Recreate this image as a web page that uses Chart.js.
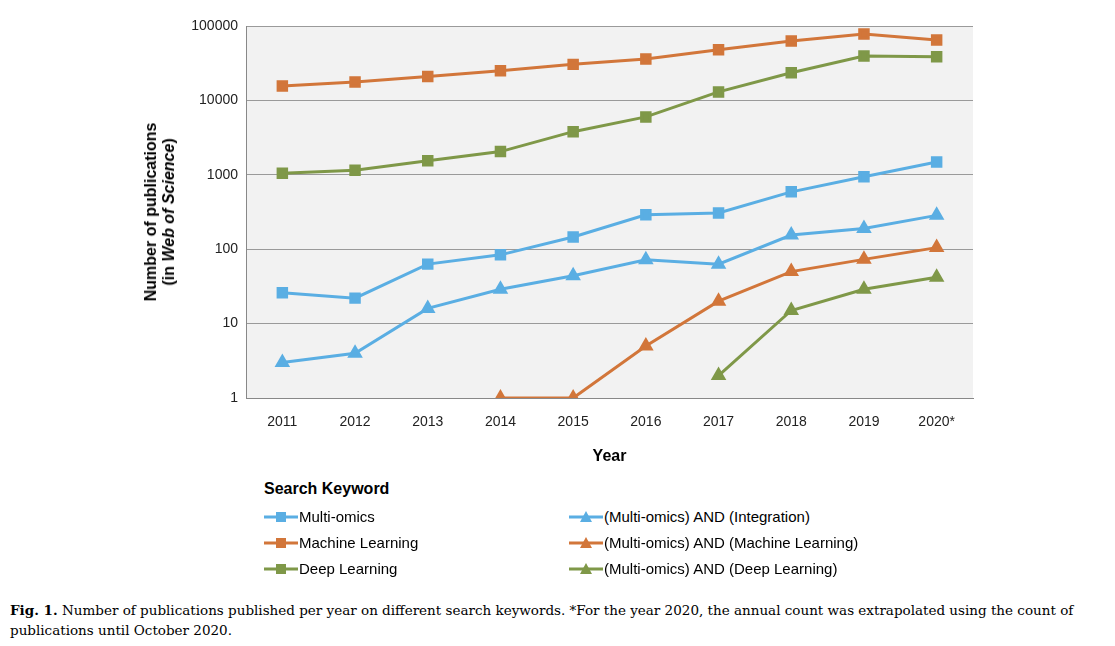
<!DOCTYPE html>
<html><head><meta charset="utf-8">
<script src="https://cdn.jsdelivr.net/npm/chart.js@4"></script>
<style>
body{margin:0;background:#fff;font-family:"Liberation Sans",Arial,sans-serif;}
#wrap{position:relative;width:1115px;height:646px;}
#c{position:absolute;left:0;top:0;}
#ytitle{position:absolute;left:160px;top:212px;transform:translate(-50%,-50%) rotate(-90deg);font-weight:bold;font-size:16px;text-align:center;white-space:nowrap;line-height:18px;}
#legend{position:absolute;left:264px;top:480px;font-size:15px;}
.lt{font-weight:bold;font-size:16px;margin-bottom:10px;}
.item{position:absolute;white-space:nowrap;display:flex;align-items:center;}
.cap{position:absolute;left:10px;top:600px;width:1095px;font-family:"DejaVu Serif","Liberation Serif",serif;font-size:13.5px;line-height:20px;}
</style></head><body>
<div id="wrap">
<canvas id="c" width="1115" height="470" style="width:1115px;height:470px"></canvas>
<div id="ytitle">Number of publications<br>(in <i>Web of Science</i>)</div>
<div id="legend"><div class="lt">Search Keyword</div></div>
<div class="cap"><b>Fig. 1.</b> Number of publications published per year on different search keywords. *For the year 2020, the annual count was extrapolated using the count of publications until October 2020.</div>
</div>
<script>
const years = ['2011','2012','2013','2014','2015','2016','2017','2018','2019','2020*'];
const multiOmics = [26,22,63,84,146,290,307,590,940,1490];
const machineLearning = [15600,17700,21000,25000,30500,36000,48000,63000,78000,65000];
const deepLearning = [1050,1150,1550,2050,3800,6000,13000,23500,39500,38500];
const moIntegration = [3,4,16,29,44,72,63,155,190,285];
const moMachineLearning = [null,null,null,1,1,5,20,50,73,105];
const moDeepLearning = [null,null,null,null,null,null,2,15,29,42];
const yTicks = [1,10,100,1000,10000,100000];

const blue = '#5aaee3', orange = '#d2763a', green = '#7f9848';
function ds(label, data, color, shape) {
  return {label, data, borderColor: color, backgroundColor: color, borderWidth: 3,
    pointStyle: shape, pointRadius: 6, pointHoverRadius: 6, tension: 0, spanGaps: false};
}
const datasets = [
  ds('Multi-omics', multiOmics, blue, 'rect'),
  ds('Machine Learning', machineLearning, orange, 'rect'),
  ds('Deep Learning', deepLearning, green, 'rect'),
  ds('(Multi-omics) AND (Integration)', moIntegration, blue, 'triangle'),
  ds('(Multi-omics) AND (Machine Learning)', moMachineLearning, orange, 'triangle'),
  ds('(Multi-omics) AND (Deep Learning)', moDeepLearning, green, 'triangle')
];

const bgPlugin = {
  id: 'bg',
  beforeDraw(chart) {
    const a = chart.chartArea, ctx = chart.ctx;
    ctx.save(); ctx.fillStyle = '#f2f2f2';
    ctx.fillRect(a.left, a.top, a.right - a.left, a.bottom - a.top);
    ctx.restore();
  }
};

new Chart(document.getElementById('c'), {
  type: 'line',
  data: {labels: years, datasets},
  options: {
    responsive: false, animation: false,
    layout: {padding: {top: 26, right: 142, left: 0, bottom: 0}},
    plugins: {legend: {display: false}, tooltip: {enabled: false}},
    scales: {
      x: {
        offset: true,
        grid: {display: false},
        border: {color: '#888'},
        ticks: {color: '#222', font: {size: 14, family: 'Liberation Sans'}, padding: 8},
        title: {display: true, text: 'Year', color: '#000', font: {size: 16, weight: 'bold'}, padding: {top: 4}},
        afterFit(s) { s.height = 72; }
      },
      y: {
        type: 'logarithmic', min: 1, max: 100000,
        afterBuildTicks(s) { s.ticks = yTicks.map(v => ({value: v})); },
        grid: {color: '#9a9a9a', drawTicks: false},
        border: {color: '#888'},
        ticks: {color: '#222', font: {size: 14, family: 'Liberation Sans'}, padding: 8,
          callback: v => String(v)},
        afterFit(s) { s.width = 246; }
      }
    }
  },
  plugins: [bgPlugin]
});

// legend in two columns
const leg = document.getElementById('legend');
datasets.forEach((d, i) => {
  const col = i < 3 ? 0 : 1, row = i % 3;
  const el = document.createElement('div');
  el.className = 'item';
  el.style.left = (col ? 305 : 0) + 'px';
  el.style.top = (28 + row * 26) + 'px';
  const mk = document.createElement('canvas');
  mk.width = 34; mk.height = 14; mk.style.marginRight = '1px';
  const c = mk.getContext('2d');
  c.strokeStyle = d.borderColor; c.fillStyle = d.borderColor; c.lineWidth = 3;
  c.beginPath(); c.moveTo(0, 7); c.lineTo(34, 7); c.stroke();
  if (d.pointStyle === 'rect') c.fillRect(12, 2, 10, 10);
  else { c.beginPath(); c.moveTo(17, 1); c.lineTo(23, 12); c.lineTo(11, 12); c.closePath(); c.fill(); }
  el.appendChild(mk);
  el.appendChild(document.createTextNode(d.label));
  leg.appendChild(el);
});
</script>
</body></html>
